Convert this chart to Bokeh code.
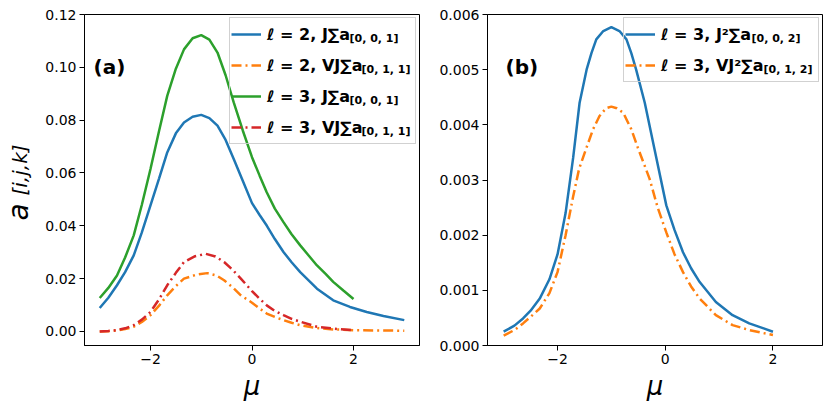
import math
from bokeh.plotting import figure
from bokeh.models import Range1d, FixedTicker, Legend, LegendItem, Label, NumeralTickFormatter
from bokeh.layouts import row
from bokeh.embed import file_html
from bokeh.resources import INLINE

# ---------------- data: panel (a) ----------------
a_mu_l2J = [-3.0, -2.83, -2.66, -2.5, -2.33, -2.17, -2.0, -1.83, -1.67, -1.5, -1.34, -1.17, -1.0,
            -0.84, -0.68, -0.52, -0.36, -0.18, 0.0, 0.15, 0.29, 0.45, 0.62, 0.78, 0.95,
            1.28, 1.6, 1.93, 2.26, 2.59, 3.0]
a_l2J = [0.0089, 0.0128, 0.0175, 0.0225, 0.0288, 0.0375, 0.0477, 0.0580, 0.0678, 0.0750, 0.0791, 0.0813, 0.0820,
         0.0808, 0.0779, 0.0725, 0.0653, 0.0570, 0.0486, 0.0441, 0.0401, 0.0350, 0.0301, 0.0262, 0.0225,
         0.0162, 0.0118, 0.0093, 0.0074, 0.0059, 0.0043]

a_mu_l2VJ = [-3.0, -2.83, -2.66, -2.5, -2.33, -2.17, -2.0, -1.83, -1.67, -1.5, -1.34, -1.1, -0.88,
             -0.7, -0.55, -0.38, -0.22, 0.0, 0.15, 0.29, 0.45, 0.62, 0.78, 0.95,
             1.28, 1.6, 2.0, 2.5, 3.0]
a_l2VJ = [0.0, 0.0001, 0.0004, 0.0009, 0.0018, 0.0036, 0.0062, 0.0098, 0.0137, 0.0172, 0.0200, 0.0215, 0.0221,
          0.0212, 0.0194, 0.0167, 0.0137, 0.0109, 0.0087, 0.0068, 0.0055, 0.0043, 0.0033, 0.0024,
          0.0013, 0.0008, 0.0005, 0.0004, 0.0003]

a_mu_l3J = [-3.0, -2.83, -2.66, -2.5, -2.33, -2.17, -2.0, -1.83, -1.67, -1.5, -1.34, -1.17, -1.0,
            -0.84, -0.68, -0.52, -0.36, -0.18, 0.0, 0.15, 0.29, 0.45, 0.62, 0.78, 0.95,
            1.12, 1.28, 1.45, 1.6, 1.8, 2.0]
a_l3J = [0.0127, 0.0165, 0.0212, 0.0280, 0.0364, 0.0480, 0.0615, 0.0760, 0.0892, 0.0995, 0.1068, 0.1110, 0.1122,
         0.1105, 0.1056, 0.0970, 0.0867, 0.0760, 0.0660, 0.0590, 0.0527, 0.0465, 0.0414, 0.0368, 0.0326,
         0.0287, 0.0250, 0.0218, 0.0188, 0.0155, 0.0123]

a_mu_l3VJ = [-3.0, -2.83, -2.66, -2.5, -2.33, -2.17, -2.0, -1.83, -1.67, -1.5, -1.34, -1.12, -0.91,
             -0.72, -0.55, -0.38, -0.22, 0.0, 0.15, 0.29, 0.45, 0.62, 0.78, 0.95,
             1.28, 1.6, 2.0]
a_l3VJ = [0.0, 0.0002, 0.0005, 0.0012, 0.0024, 0.0045, 0.0074, 0.0122, 0.0175, 0.0222, 0.0263, 0.0285, 0.0294,
          0.0284, 0.0263, 0.0233, 0.0200, 0.0153, 0.0124, 0.0099, 0.0078, 0.0062, 0.0048, 0.0037,
          0.0018, 0.0011, 0.0005]

# ---------------- data: panel (b) ----------------
b_mu_l3J2 = [-3.0, -2.8, -2.64, -2.5, -2.33, -2.15, -2.0, -1.85, -1.71, -1.59, -1.46, -1.37, -1.28, -1.15,
             -1.0, -0.85, -0.72, -0.63, -0.54, -0.38, -0.2, 0.02, 0.17, 0.33, 0.48, 0.64,
             0.94, 1.25, 1.56, 1.8, 2.0]
b_l3J2 = [0.00025, 0.00036, 0.00049, 0.00063, 0.00085, 0.00120, 0.00165, 0.0024, 0.0034, 0.0044, 0.0050, 0.0053,
          0.00555, 0.0057, 0.00577, 0.0057, 0.00555, 0.0053, 0.0050, 0.0044, 0.00356, 0.00254, 0.0021, 0.00169,
          0.0014, 0.00115, 0.00079, 0.00055, 0.0004, 0.00032, 0.00025]

b_mu_l3VJ2 = [-3.0, -2.8, -2.64, -2.5, -2.33, -2.15, -2.0, -1.85, -1.71, -1.6, -1.46, -1.34, -1.22, -1.1,
              -1.0, -0.9, -0.78, -0.63, -0.51, -0.29, -0.14, 0.02, 0.17, 0.33, 0.48, 0.64,
              0.94, 1.25, 1.56, 1.8, 2.0]
b_l3VJ2 = [0.00018, 0.00028, 0.00040, 0.00052, 0.00067, 0.00095, 0.00133, 0.0020, 0.0027, 0.0032, 0.00359, 0.00392,
           0.00416, 0.0043, 0.00433, 0.0043, 0.00422, 0.00392, 0.00359, 0.00302, 0.0025, 0.00205, 0.00166, 0.00133,
           0.00107, 0.00085, 0.00055, 0.00037, 0.00028, 0.00023, 0.00019]

# ---------------- ticks / labels ----------------
x_ticks = [-2, 0, 2]
x_tick_labels = {-2: "\u22122", 0: "0", 2: "2"}
a_y_ticks = [0.0, 0.02, 0.04, 0.06, 0.08, 0.10, 0.12]
b_y_ticks = [0.0, 0.001, 0.002, 0.003, 0.004, 0.005, 0.006]

a_legend_main = ["\u2113 = 2, J\u2211a", "\u2113 = 2, VJ\u2211a", "\u2113 = 3, J\u2211a", "\u2113 = 3, VJ\u2211a"]
a_legend_sub = ["[0, 0, 1]", "[0, 1, 1]", "[0, 0, 1]", "[0, 1, 1]"]
b_legend_main = ["\u2113 = 3, J\u00b2\u2211a", "\u2113 = 3, VJ\u00b2\u2211a"]
b_legend_sub = ["[0, 0, 2]", "[0, 1, 2]"]
y_label_main = "a"
y_label_sub = "[i,j,k]"

BLUE, ORANGE, GREEN, RED = "#1f77b4", "#ff7f0e", "#2ca02c", "#d62728"
FONT = "DejaVu Sans"
H = 403
TOP = 14
FRAME_H = 333
LW = 2.5
DASHDOT = "10 4 2 4"


def make_fig(width, left, right, xr, yr, yticks, yfmt):
    p = figure(width=width, height=H, output_backend="svg", toolbar_location=None,
               x_range=Range1d(*xr), y_range=Range1d(*yr),
               min_border_left=left, min_border_right=right,
               min_border_top=TOP, min_border_bottom=H - TOP - FRAME_H)
    p.xgrid.visible = False
    p.ygrid.visible = False
    p.outline_line_color = "black"
    p.outline_line_alpha = 1
    p.outline_line_width = 1
    p.background_fill_color = "white"
    p.border_fill_color = "white"
    for ax in (p.xaxis[0], p.yaxis[0]):
        ax.axis_line_color = "black"
        ax.major_tick_line_color = "black"
        ax.major_tick_out = 5
        ax.major_tick_in = 0
        ax.minor_tick_out = 0
        ax.minor_tick_in = 0
        ax.major_label_text_font = FONT
        ax.major_label_text_font_size = "14px"
        ax.major_label_text_color = "black"
        ax.major_label_standoff = 3
    p.xaxis.ticker = FixedTicker(ticks=x_ticks)
    p.xaxis.major_label_overrides = x_tick_labels
    p.xaxis.axis_label = "\u03bc"
    p.xaxis.axis_label_text_font = FONT
    p.xaxis.axis_label_text_font_style = "italic"
    p.xaxis.axis_label_text_font_size = "26px"
    p.xaxis.axis_label_text_color = "black"
    p.xaxis.axis_label_standoff = 4
    p.yaxis.ticker = FixedTicker(ticks=yticks)
    p.yaxis.formatter = NumeralTickFormatter(format=yfmt)
    return p


def add_series(p, x, y, color, dash):
    kw = dict(line_color=color, line_width=LW)
    if dash:
        kw["line_dash"] = DASHDOT
    r_line = p.line(x, y, **kw)
    r_bar = p.scatter([], [], marker="cross", line_color=color, line_width=LW, size=12)
    return [r_line, r_bar]


def add_legend(p, mains, subs, rend_lists, label_width, sub_x, sub_y):
    items = [LegendItem(label=m, renderers=r) for m, r in zip(mains, rend_lists)]
    lg = Legend(items=items, location="top_right", margin=3, padding=1,
                glyph_width=30, glyph_height=30, label_height=30, spacing=1,
                label_standoff=6, label_width=label_width,
                label_text_font=FONT, label_text_font_style="bold",
                label_text_font_size="16px", label_text_color="black",
                border_line_color="#cccccc", border_line_alpha=0.9, border_line_width=1,
                background_fill_color="white", background_fill_alpha=0.0)
    p.add_layout(lg)
    for i, s in enumerate(subs):
        p.add_layout(Label(x=sub_x[i], y=sub_y[i], x_units="screen", y_units="screen", text=s,
                           level="overlay",
                           text_font=FONT, text_font_style="bold", text_font_size="11px",
                           text_color="black", text_align="left", text_baseline="alphabetic"))


# ---------------- y-axis label strip ----------------
p0 = figure(width=38, height=H, output_backend="svg", toolbar_location=None,
            x_range=Range1d(0, 1), y_range=Range1d(0, 1),
            x_axis_location=None, y_axis_location=None,
            min_border_left=0, min_border_right=0, min_border_top=0, min_border_bottom=0)
p0.xgrid.visible = False
p0.ygrid.visible = False
p0.outline_line_color = None
p0.add_layout(Label(x=18, y=125, x_units="screen", y_units="screen", text=y_label_main,
                    angle=90, angle_units="deg", text_font=FONT, text_font_style="italic",
                    text_font_size="28px", text_color="black", text_align="left",
                    text_baseline="alphabetic"))
p0.add_layout(Label(x=19, y=150, x_units="screen", y_units="screen", text=y_label_sub,
                    angle=90, angle_units="deg", text_font=FONT, text_font_style="italic",
                    text_font_size="20px", text_color="black", text_align="left",
                    text_baseline="alphabetic"))

# ---------------- panel (a) ----------------
p1 = make_fig(391, 46, 10, (-3.3, 3.3), (-0.0053, 0.12), a_y_ticks, "0.00")
ra = [add_series(p1, a_mu_l2J, a_l2J, BLUE, False),
      add_series(p1, a_mu_l2VJ, a_l2VJ, ORANGE, True),
      add_series(p1, a_mu_l3J, a_l3J, GREEN, False),
      add_series(p1, a_mu_l3VJ, a_l3VJ, RED, True)]
add_legend(p1, a_legend_main, a_legend_sub, ra, 147,
           [265, 277, 265, 277], [307, 276, 245, 214])
p1.add_layout(Label(x=9, y=279, x_units="screen", y_units="screen", text="(a)",
                    text_font=FONT, text_font_style="bold", text_font_size="20px",
                    text_color="black", text_baseline="alphabetic"))

# ---------------- panel (b) ----------------
p2 = make_fig(394, 58, 1, (-3.3, 2.92), (0.0, 0.006), b_y_ticks, "0.000")
rb = [add_series(p2, b_mu_l3J2, b_l3J2, BLUE, False),
      add_series(p2, b_mu_l3VJ2, b_l3VJ2, ORANGE, True)]
add_legend(p2, b_legend_main, b_legend_sub, rb, 156, [264, 276], [307, 276])
p2.add_layout(Label(x=18, y=279, x_units="screen", y_units="screen", text="(b)",
                    text_font=FONT, text_font_style="bold", text_font_size="20px",
                    text_color="black", text_baseline="alphabetic"))

layout = row(p0, p1, p2)
open("out.html", "w").write(file_html(layout, INLINE))
